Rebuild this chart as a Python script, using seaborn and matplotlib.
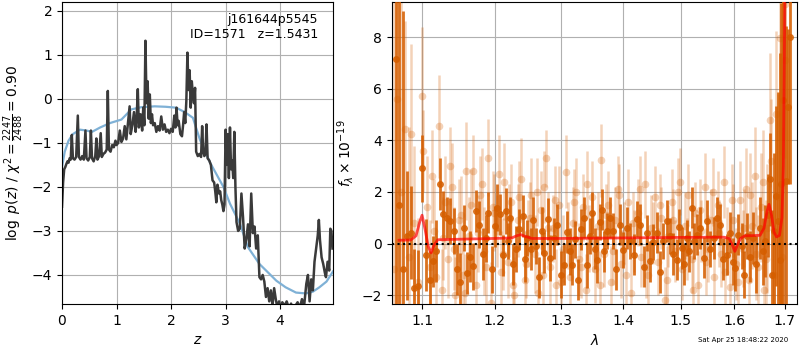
import numpy as np
import matplotlib
matplotlib.use('Agg')
import matplotlib.pyplot as plt
import seaborn as sns
from matplotlib.ticker import FixedLocator, FormatStrFormatter, NullLocator

# redshift probability curve (noisy fit) and smooth prior-like curve
pz_z = [0.00, 0.02, 0.04, 0.06, 0.08, 0.10, 0.12, 0.14, 0.16, 0.18, 0.20, 0.23, 0.26, 0.29, 0.31, 0.34,
        0.37, 0.40, 0.43, 0.45, 0.48, 0.51, 0.53, 0.55, 0.58, 0.61, 0.63, 0.65, 0.68, 0.71, 0.73, 0.76,
        0.79, 0.82, 0.84, 0.86, 0.89, 0.92, 0.95, 0.98, 1.00, 1.03, 1.06, 1.09, 1.12, 1.15, 1.18, 1.21,
        1.24, 1.26, 1.29, 1.32, 1.35, 1.37, 1.39, 1.41, 1.44, 1.47, 1.49, 1.51, 1.53, 1.55, 1.57, 1.59,
        1.61, 1.63, 1.65, 1.67, 1.70, 1.73, 1.76, 1.79, 1.82, 1.85, 1.88, 1.91, 1.94, 1.97, 2.00, 2.03,
        2.06, 2.08, 2.10, 2.12, 2.14, 2.17, 2.20, 2.22, 2.24, 2.26, 2.28, 2.30, 2.32, 2.34, 2.36, 2.38,
        2.40, 2.42, 2.44, 2.46, 2.49, 2.52, 2.55, 2.57, 2.59, 2.61, 2.63, 2.65, 2.67, 2.70, 2.73, 2.76,
        2.79, 2.81, 2.83, 2.85, 2.88, 2.90, 2.92, 2.94, 2.96, 2.98, 3.00, 3.02, 3.04, 3.06, 3.08, 3.10,
        3.12, 3.14, 3.16, 3.18, 3.20, 3.23, 3.26, 3.29, 3.32, 3.35, 3.38, 3.41, 3.44, 3.47, 3.50, 3.53,
        3.56, 3.59, 3.62, 3.65, 3.68, 3.71, 3.74, 3.77, 3.80, 3.83, 3.86, 3.89, 3.92, 3.95, 3.98, 4.01,
        4.04, 4.08, 4.12, 4.16, 4.20, 4.24, 4.28, 4.32, 4.36, 4.40, 4.44, 4.48, 4.51, 4.54, 4.57, 4.60,
        4.63, 4.66, 4.69, 4.71, 4.73, 4.76, 4.79, 4.82, 4.84, 4.87, 4.90, 4.92, 4.94, 4.96]
pz_logp = [-2.45, -1.90, -1.60, -1.55, -1.48, -1.42, -1.45, -1.35, -1.38, -0.82, -1.35, -1.38, -1.32, -0.38, -1.32, -1.38,
           -1.30, -1.38, -0.72, -1.35, -1.40, -1.32, -0.72, -1.35, -1.42, -1.30, -0.90, -1.38, -1.30, -0.78, -1.32, -1.25,
           -1.22, -1.15, 0.18, -1.15, -1.20, -1.05, -1.10, -0.95, -1.05, -1.00, -0.72, -0.98, -0.90, -0.62, -0.92, -0.55,
           -0.17, -0.80, -0.60, -0.30, -0.75, -0.40, 0.22, -0.65, -0.35, -0.72, -0.20, -0.60, 1.32, -0.10, 0.40, -0.45,
           0.10, -0.55, -0.35, -0.60, -0.55, -0.75, -0.62, -0.72, -0.40, -0.70, -0.58, -0.75, -0.70, -0.78, -0.68, -0.75,
           -0.38, -0.65, -0.20, -0.60, -0.50, -0.80, -0.85, -0.60, -0.30, -0.55, -0.05, 1.05, 0.20, 0.65, -0.20, 0.40,
           0.10, -0.10, 0.25, -1.20, -1.30, -1.25, -1.32, -0.62, -1.20, -1.30, -1.25, -0.58, -1.35, -1.40, -1.50, -1.85,
           -1.90, -2.10, -2.35, -1.95, -2.15, -2.10, -2.30, -2.40, -2.55, -2.40, -0.70, -1.50, -0.80, -1.80, -0.65, -1.60,
           -1.40, -1.80, -0.75, -2.00, -2.80, -3.00, -2.95, -2.15, -2.70, -3.40, -3.20, -2.85, -3.35, -2.15, -3.05, -2.90,
           -3.40, -3.10, -4.05, -4.10, -4.00, -4.15, -4.50, -4.30, -4.60, -4.35, -4.70, -4.30, -4.55, -4.75, -4.60, -4.80,
           -4.62, -4.70, -4.60, -4.75, -4.65, -4.80, -4.70, -4.62, -4.75, -4.55, -4.70, -4.20, -4.00, -4.60, -4.10, -4.35,
           -3.70, -3.40, -3.10, -2.75, -3.20, -3.60, -3.75, -3.95, -4.05, -3.70, -3.90, -2.95, -3.00, -3.40]

smooth_z = [0.00, 0.05, 0.12, 0.20, 0.33, 0.45, 0.55, 0.70, 0.88, 1.09, 1.27, 1.45, 1.70, 1.90, 2.09, 2.25,
            2.40, 2.53, 2.72, 2.96, 3.08, 3.26, 3.41, 3.62, 3.93, 4.10, 4.29, 4.47, 4.60, 4.72, 4.85, 4.97]
smooth_logp = [-1.55, -1.20, -0.95, -0.80, -0.70, -0.72, -0.75, -0.65, -0.55, -0.47, -0.24, -0.19, -0.17, -0.18, -0.20, -0.30,
               -0.43, -0.93, -1.46, -2.00, -2.38, -2.83, -3.37, -3.75, -4.13, -4.28, -4.40, -4.42, -4.38, -4.28, -4.15, -3.92]

# spectrum 1 (dark points)
wave_a = [1.066, 1.070, 1.075, 1.080, 1.085, 1.089, 1.094, 1.100, 1.105, 1.110, 1.115, 1.119,
          1.124, 1.128, 1.133, 1.138, 1.143, 1.147, 1.151, 1.157, 1.161, 1.165, 1.170, 1.174,
          1.178, 1.183, 1.187, 1.191, 1.196, 1.200, 1.203, 1.208, 1.212, 1.216, 1.220, 1.223,
          1.227, 1.231, 1.236, 1.241, 1.245, 1.248, 1.253, 1.257, 1.261, 1.266, 1.270, 1.274,
          1.279, 1.283, 1.288, 1.294, 1.299, 1.304, 1.309, 1.313, 1.317, 1.322, 1.327, 1.331,
          1.336, 1.341, 1.345, 1.349, 1.353, 1.357, 1.361, 1.365, 1.369, 1.373, 1.378, 1.384,
          1.389, 1.395, 1.400, 1.406, 1.412, 1.418, 1.423, 1.429, 1.435, 1.441, 1.446, 1.452,
          1.458, 1.464, 1.469, 1.475, 1.481, 1.487, 1.493, 1.498, 1.502, 1.507, 1.511, 1.516,
          1.520, 1.525, 1.530, 1.536, 1.542, 1.548, 1.554, 1.561, 1.567, 1.573, 1.579, 1.586,
          1.592, 1.597, 1.601, 1.607, 1.614, 1.619, 1.624, 1.630, 1.637, 1.643, 1.650, 1.655,
          1.660, 1.665, 1.669, 1.674, 1.678, 1.682, 1.686, 1.690, 1.693, 1.697, 1.702, 1.706, 1.710]
flux_a = [7.15, 1.50, -1.00, 0.30, 0.42, -1.71, -1.66, 2.92, -0.43, -1.40, -0.69, -0.30,
          2.30, 1.13, 1.00, 0.87, 0.48, -1.00, -1.47, 0.61, -1.14, -0.50, -0.88, 1.26,
          0.74, -0.40, 0.20, 1.20, -1.00, 0.67, 1.39, 1.13, -0.45, 1.26, 0.10, 1.00,
          -0.80, -0.20, 0.55, 1.07, -0.60, 0.23, -0.21, 0.90, -0.10, -1.30, 0.50, -0.35,
          0.95, -0.56, 0.20, 0.74, -1.20, -0.82, 0.45, -0.30, -0.82, 0.16, -1.40, 0.55,
          1.00, -0.82, 0.30, 1.19, -0.20, -0.62, 0.85, 1.32, -0.30, 0.48, 1.00, 0.48,
          -1.00, 0.74, -0.25, 0.61, 0.10, -0.43, 0.95, 0.74, -0.90, 0.42, -0.69, 0.05,
          0.42, -1.10, 0.09, 0.87, 0.30, -0.40, -0.62, 0.65, -0.17, -0.80, 0.22, -0.30,
          1.39, 0.10, 0.35, 0.61, -0.55, 0.87, -0.20, 0.22, 1.00, 0.74, -0.60, -0.43,
          0.42, -0.70, -0.95, 0.35, -0.10, -1.20, 0.30, -0.50, 0.22, -0.80, 0.61, -0.30,
          0.09, 1.10, 2.49, -1.20, 0.50, 1.84, 0.87, -0.62, 2.32, 5.56, 2.42, 5.30, 8.00]
err_a = [14.0, 12.0, 10.0, 2.5, 1.8, 1.5, 1.4, 1.3, 1.4, 1.1, 1.0, 1.2,
         1.0, 0.9, 0.8, 0.9, 0.9, 1.0, 1.1, 0.9, 0.8, 1.0, 0.9, 0.8,
         0.9, 1.0, 0.9, 0.8, 0.9, 0.8, 0.9, 0.8, 0.8, 0.9, 0.7, 0.8,
         0.8, 0.9, 0.8, 0.8, 0.9, 0.7, 0.8, 0.9, 0.7, 0.8, 0.9, 0.8,
         0.8, 0.9, 0.8, 0.8, 0.9, 0.8, 0.8, 0.9, 0.8, 0.7, 0.8, 0.8,
         0.8, 0.9, 0.7, 0.8, 0.8, 0.9, 0.7, 0.8, 0.8, 0.7, 0.8, 0.7,
         0.8, 0.8, 0.7, 0.8, 0.7, 0.8, 0.7, 0.8, 0.8, 0.7, 0.8, 0.7,
         0.8, 0.8, 0.7, 0.8, 0.7, 0.8, 0.8, 0.7, 0.8, 0.8, 0.7, 0.8,
         0.8, 0.7, 0.8, 0.8, 0.8, 0.8, 0.7, 0.8, 0.8, 0.8, 0.8, 0.8,
         0.8, 0.9, 0.9, 0.8, 0.9, 0.9, 0.9, 1.0, 1.0, 1.1, 1.2, 1.3,
         1.4, 1.6, 1.8, 2.5, 3.0, 3.5, 5.0, 8.0, 7.0, 8.0, 6.0, 3.0, 5.7]

# spectrum 2 (light points)
wave_b = [1.063, 1.068, 1.073, 1.078, 1.083, 1.085, 1.090, 1.095, 1.100, 1.101, 1.106, 1.111,
          1.116, 1.122, 1.126, 1.131, 1.135, 1.140, 1.145, 1.150, 1.155, 1.160, 1.164, 1.169,
          1.174, 1.179, 1.185, 1.190, 1.195, 1.199, 1.204, 1.209, 1.214, 1.219, 1.224, 1.229,
          1.234, 1.239, 1.244, 1.249, 1.254, 1.259, 1.264, 1.269, 1.274, 1.277, 1.282, 1.287,
          1.292, 1.297, 1.303, 1.308, 1.313, 1.318, 1.323, 1.328, 1.334, 1.339, 1.344, 1.349,
          1.354, 1.359, 1.364, 1.369, 1.375, 1.380, 1.386, 1.391, 1.397, 1.402, 1.408, 1.414,
          1.419, 1.425, 1.431, 1.437, 1.442, 1.448, 1.454, 1.460, 1.466, 1.472, 1.478, 1.484,
          1.490, 1.496, 1.502, 1.508, 1.514, 1.520, 1.526, 1.532, 1.538, 1.544, 1.550, 1.556,
          1.562, 1.568, 1.574, 1.580, 1.586, 1.592, 1.598, 1.604, 1.610, 1.616, 1.622, 1.628,
          1.634, 1.640, 1.646, 1.652, 1.658, 1.664, 1.669, 1.672, 1.677, 1.682, 1.686, 1.690,
          1.694, 1.700, 1.701,
          1.113, 1.119, 1.128, 1.137, 1.143, 1.152, 1.158, 1.167, 1.176, 1.182, 1.188, 1.197,
          1.206, 1.212, 1.221, 1.227, 1.236, 1.246, 1.252, 1.262, 1.271, 1.280, 1.290, 1.300,
          1.310, 1.320, 1.331, 1.341, 1.351, 1.362, 1.372, 1.383, 1.394, 1.405, 1.416, 1.428,
          1.439, 1.451, 1.463, 1.475, 1.487, 1.499, 1.511, 1.523, 1.535, 1.547, 1.559, 1.571,
          1.583, 1.595, 1.607, 1.619, 1.631, 1.643, 1.655, 1.661]
flux_b = [-1.00, 5.60, 2.00, 4.43, -0.50, 4.24, 0.80, -1.50, 5.70, 3.58, 1.40, -0.90,
          0.50, 4.55, -1.80, 1.60, -0.60, 2.20, -2.00, 0.90, -1.20, 2.80, 0.30, 2.80,
          -1.60, 1.90, -0.30, 3.33, -2.30, 1.20, 0.50, -1.10, 2.40, -0.70, 1.60, -2.00,
          0.90, 2.50, -1.40, 0.40, 1.90, -0.40, -1.90, 1.30, 2.20, 3.30, -0.90, 0.60,
          -1.60, 1.50, -0.20, 2.79, -1.30, 0.80, 2.00, -0.60, 1.40, -1.80, 0.20, 1.80,
          -1.00, 0.70, 3.22, -0.40, 1.50, -1.50, 0.90, 2.10, -0.80, 0.40, 1.60, -1.90,
          0.10, 1.20, -0.50, 2.30, -1.20, 0.60, 1.80, -0.70, 1.00, -2.20, 0.30, 1.60,
          -0.30, 2.00, -1.00, 0.70, 1.90, -0.60, 1.20, -1.60, 0.50, 2.20, -0.20, 0.90,
          -1.30, 1.50, -0.40, 2.40, 0.10, -1.70, 0.90, -0.80, 1.70, -0.20, 2.10, -1.40,
          0.70, 2.60, -0.90, 1.40, -1.80, 0.60, 4.79, 3.20, -1.20, 5.02, 1.80, 7.96,
          -0.50, 9.30, 7.10,
          2.60, -1.30, 0.20, 3.00, -0.20, 1.10, -1.90, 1.50, 0.40, 2.30, -0.90, 1.40,
          2.70, -0.40, 0.90, -1.60, 1.80, -0.80, 1.00, 2.00, -1.20, 0.60, 1.70, -1.50,
          0.30, 1.60, -0.90, 2.30, 0.10, -1.60, 1.10, -0.30, 1.90, -1.20, 0.80, 2.10,
          -0.90, 0.40, 1.50, -1.40, 0.90, 2.40, -0.20, -1.80, 1.30, -0.70, 2.00, 0.40,
          -1.10, 1.70, -1.50, 0.60, 1.90, -0.40, 2.40, -0.60]
err_b = [12.0, 8.0, 10.0, 4.2, 5.0, 3.5, 3.0, 2.5, 2.7, 1.6, 2.0, 1.8,
         2.0, 2.0, 1.6, 1.8, 1.5, 1.7, 1.5, 1.6, 1.7, 1.9, 1.5, 1.4,
         1.6, 1.5, 1.7, 1.5, 1.6, 1.5, 1.4, 1.6, 1.5, 1.4, 1.5, 1.5,
         1.4, 1.6, 1.5, 1.3, 1.4, 1.5, 1.4, 1.5, 1.4, 1.1, 1.5, 1.3,
         1.4, 1.5, 1.3, 1.4, 1.5, 1.4, 1.3, 1.4, 1.3, 1.4, 1.3, 1.4,
         1.3, 1.3, 1.4, 1.3, 1.3, 1.4, 1.3, 1.3, 1.3, 1.2, 1.3, 1.3,
         1.2, 1.3, 1.2, 1.3, 1.2, 1.3, 1.2, 1.3, 1.2, 1.3, 1.2, 1.3,
         1.2, 1.3, 1.2, 1.3, 1.2, 1.3, 1.2, 1.3, 1.2, 1.3, 1.3, 1.2,
         1.3, 1.3, 1.3, 1.4, 1.3, 1.4, 1.4, 1.4, 1.5, 1.5, 1.6, 1.7,
         1.7, 1.9, 2.0, 2.1, 2.3, 2.5, 2.6, 2.4, 3.0, 3.2, 4.0, 4.5,
         5.0, 6.0, 5.0,
         1.8, 1.7, 1.6, 1.5, 1.6, 1.5, 1.5, 1.4, 1.5, 1.4, 1.5, 1.4,
         1.5, 1.4, 1.4, 1.3, 1.4, 1.3, 1.4, 1.3, 1.3, 1.4, 1.3, 1.3,
         1.3, 1.3, 1.2, 1.3, 1.2, 1.3, 1.2, 1.3, 1.2, 1.2, 1.2, 1.3,
         1.2, 1.2, 1.2, 1.3, 1.2, 1.3, 1.2, 1.3, 1.2, 1.3, 1.3, 1.3,
         1.3, 1.4, 1.4, 1.5, 1.6, 1.8, 2.0, 2.3]

# best-fit model
model_wave = [1.070, 1.085, 1.092, 1.097, 1.100, 1.104, 1.108, 1.112, 1.116, 1.121, 1.150, 1.200,
              1.225, 1.232, 1.238, 1.245, 1.255, 1.300, 1.400, 1.500, 1.580, 1.590, 1.596, 1.601,
              1.606, 1.612, 1.620, 1.650, 1.658, 1.664, 1.668, 1.673, 1.678, 1.683, 1.689, 1.694,
              1.697, 1.700]
model_flux = [0.13, 0.14, 0.30, 0.85, 1.10, 0.55, -0.10, -0.36, -0.05, 0.15, 0.17, 0.20,
              0.22, 0.30, 0.35, 0.28, 0.20, 0.20, 0.22, 0.24, 0.25, 0.20, -0.05, -0.30,
              -0.05, 0.20, 0.30, 0.32, 0.60, 1.25, 1.52, 1.10, 0.45, 0.26, 0.32, 1.00,
              3.00, 9.80]

fig = plt.figure(figsize=(8, 3.5), dpi=100)
ax1 = fig.add_axes([0.0775, 0.1314, 0.3388, 0.8629])
ax2 = fig.add_axes([0.49, 0.1314, 0.5063, 0.8629])

# left panel: p(z)
sns.lineplot(x=smooth_z, y=smooth_logp, ax=ax1, color='#7fb1d6', lw=1.6, estimator=None)
sns.lineplot(x=pz_z, y=pz_logp, ax=ax1, color='#3a3a3a', lw=1.8, estimator=None)
ax1.set_xlim(0, 4.97)
ax1.set_ylim(-4.66, 2.2)
ax1.set_xticks([0, 1, 2, 3, 4])
ax1.set_yticks([-4, -3, -2, -1, 0, 1, 2])
ax1.grid(True)
ax1.set_xlabel('$z$')
ax1.set_ylabel(r'$\log\ p(z)$ / $\chi^2=\frac{2247}{2488}=0.90$')
ax1.text(0.945, 0.965, 'j161644p5545\nID=1571   z=1.5431', transform=ax1.transAxes,
         ha='right', va='top', fontsize=9)

# right panel: spectrum
ax2.errorbar(wave_b, flux_b, yerr=err_b, fmt='o', color='#d55e00', alpha=0.28,
             ms=5.5, mew=0, elinewidth=1.8, capsize=0, zorder=2)
ax2.errorbar(wave_a, flux_a, yerr=err_a, fmt='o', color='#d55e00', alpha=0.88,
             ms=5, mew=0, elinewidth=2.0, capsize=0, zorder=3)
sns.lineplot(x=model_wave, y=model_flux, ax=ax2, color='r', lw=2, alpha=0.7,
             estimator=None, zorder=4)
ax2.axhline(0, color='k', ls=':', lw=1.5, zorder=5)
ax2.set_xscale('log')
ax2.set_xlim(1.061, 1.725)
ax2.set_ylim(-2.34, 9.36)
ax2.xaxis.set_major_locator(FixedLocator([1.1, 1.2, 1.3, 1.4, 1.5, 1.6, 1.7]))
ax2.xaxis.set_major_formatter(FormatStrFormatter('%.1f'))
ax2.xaxis.set_minor_locator(NullLocator())
ax2.set_yticks([-2, 0, 2, 4, 6, 8])
ax2.grid(True)
ax2.set_xlabel(r'$\lambda$')
ax2.set_ylabel(r'$f_\lambda\times10^{-19}$')

fig.text(0.985, 0.028, 'Sat Apr 25 18:48:22 2020', ha='right', va='center', fontsize=5)

fig.savefig('out.png', dpi=100)
